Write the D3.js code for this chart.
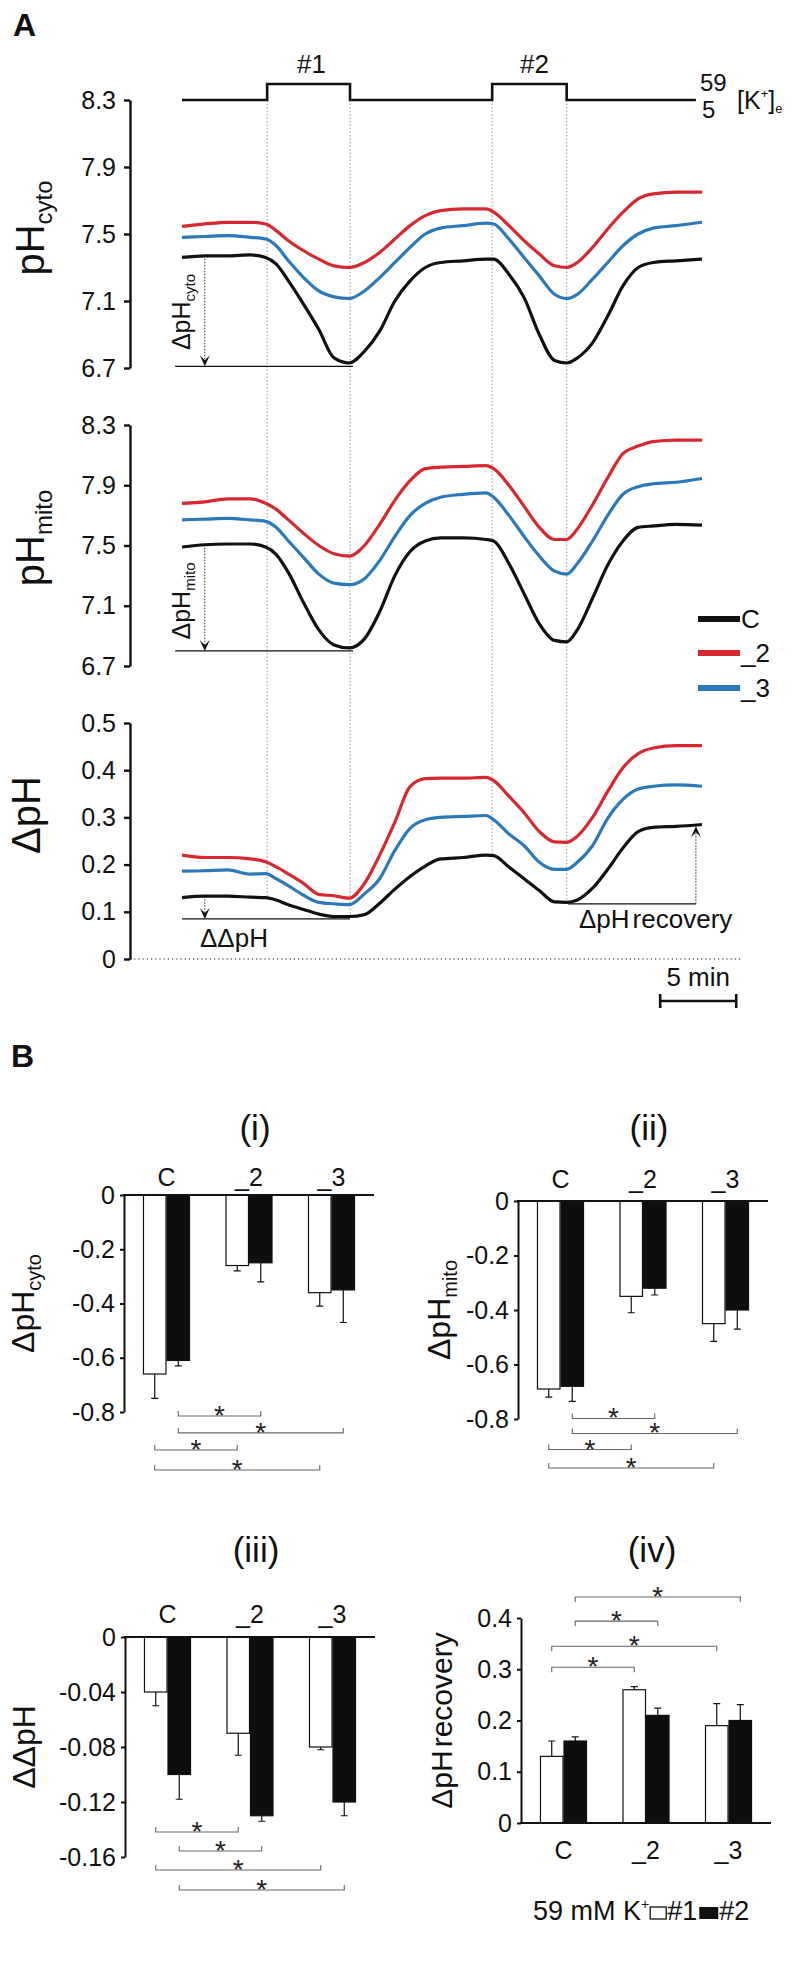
<!DOCTYPE html>
<html><head><meta charset="utf-8">
<script src="https://cdn.jsdelivr.net/npm/d3@7"></script>
<style>body{margin:0;background:#fff} svg{display:block;background:#fff}</style>
</head><body><svg id="chart" width="791" height="1970"></svg>
<script>
// ---------------- DATA ----------------
// Panel A: time (min) and traces
const time   = [0,1.5,3,4.5,5.5,6.2,7,8,9,10, 11,12,13,14,15,16,17,18.5,20,20.5, 21.5,22.5,23.5,24.5,25.3,26,27,28,29,30, 31,32.5,34.2];
const cytoC  = [7.36,7.37,7.37,7.375,7.36,7.32,7.22,7.08,6.93,6.76, 6.73,6.80,6.92,7.10,7.22,7.30,7.33,7.34,7.35,7.35, 7.26,7.12,6.90,6.745,6.73,6.76,6.85,7.01,7.19,7.30, 7.33,7.34,7.35];
const cyto2  = [7.545,7.56,7.57,7.57,7.56,7.52,7.46,7.40,7.35,7.31, 7.30,7.33,7.39,7.47,7.55,7.61,7.64,7.65,7.65,7.63, 7.55,7.46,7.38,7.31,7.30,7.33,7.42,7.53,7.63,7.71, 7.74,7.75,7.75];
const cyto3  = [7.48,7.485,7.49,7.48,7.47,7.43,7.34,7.24,7.16,7.125, 7.115,7.16,7.24,7.33,7.42,7.50,7.535,7.55,7.565,7.56, 7.47,7.36,7.25,7.14,7.115,7.14,7.23,7.33,7.43,7.50, 7.535,7.55,7.57];
const mitoC  = [7.49,7.505,7.51,7.51,7.49,7.44,7.32,7.12,6.94,6.84, 6.82,6.88,7.06,7.30,7.46,7.53,7.55,7.55,7.54,7.53, 7.38,7.18,6.98,6.87,6.86,6.94,7.15,7.37,7.53,7.62, 7.63,7.64,7.635];
const mito2  = [7.78,7.79,7.81,7.81,7.78,7.74,7.67,7.58,7.50,7.445, 7.43,7.50,7.64,7.80,7.93,8.01,8.02,8.025,8.03,8.01, 7.90,7.76,7.62,7.54,7.54,7.61,7.77,7.95,8.11,8.16, 8.19,8.20,8.20];
const mito3  = [7.67,7.675,7.68,7.67,7.66,7.62,7.53,7.42,7.31,7.25, 7.24,7.28,7.40,7.56,7.70,7.78,7.82,7.84,7.85,7.82, 7.70,7.56,7.43,7.33,7.31,7.38,7.53,7.70,7.84,7.89, 7.91,7.92,7.945];
const dphC   = [0.13,0.133,0.133,0.131,0.13,0.125,0.115,0.105,0.095,0.09, 0.09,0.094,0.118,0.148,0.175,0.197,0.212,0.215,0.22,0.219, 0.195,0.17,0.145,0.121,0.12,0.125,0.15,0.19,0.235,0.27, 0.279,0.281,0.285];
const dph2   = [0.22,0.215,0.215,0.212,0.206,0.195,0.18,0.16,0.137,0.134, 0.129,0.16,0.22,0.29,0.365,0.382,0.383,0.383,0.385,0.378, 0.345,0.31,0.27,0.248,0.247,0.26,0.30,0.355,0.405,0.435, 0.447,0.452,0.452];
const dph3   = [0.186,0.187,0.189,0.18,0.181,0.17,0.155,0.135,0.12,0.117, 0.115,0.138,0.17,0.23,0.277,0.295,0.30,0.302,0.304,0.295, 0.265,0.24,0.205,0.19,0.19,0.205,0.24,0.298,0.338,0.36, 0.366,0.369,0.366];
const traceNames  = ["C","_2","_3"];
const traceColors = ["#111111","#d6282e","#2b79b8"];
// stimulus [K+]e
const stimTime = [0,5.6,5.6,11.05,11.05,20.4,20.4,25.3,25.3,33.8];
const stimK    = [5,5,59,59,5,5,59,59,5,5];
const pulseLabels = ["#1","#2"];
const pulseEdges  = [5.6,11.05,20.4,25.3];
const pulseEdgeDpH = [0.13,0.09,0.22,0.12];
// ticks
const phTicks  = [8.3,7.9,7.5,7.1,6.7];
const dphTicks = [0.5,0.4,0.3,0.2,0.1,0];

// Panel B: bar data
const categories = ["C","_2","_3"];
const series = ["#1","#2"];
const cytoK1 = [-0.66,-0.26,-0.36], cytoK1err = [0.09,0.02,0.05];
const cytoK2 = [-0.61,-0.25,-0.35], cytoK2err = [0.02,0.07,0.12];
const mitoK1 = [-0.69,-0.35,-0.45], mitoK1err = [0.03,0.06,0.065];
const mitoK2 = [-0.68,-0.32,-0.40], mitoK2err = [0.055,0.025,0.07];
const ddK1   = [-0.04,-0.07,-0.08], ddK1err = [0.01,0.016,0.002];
const ddK2   = [-0.10,-0.13,-0.12], ddK2err = [0.018,0.004,0.01];
const recK1  = [0.13,0.26,0.19], recK1err = [0.03,0.006,0.043];
const recK2  = [0.16,0.21,0.20], recK2err = [0.008,0.014,0.031];
const negTicks   = [0,-0.2,-0.4,-0.6,-0.8];
const ddTicks    = [0,-0.04,-0.08,-0.12,-0.16];
const recTicks   = [0,0.1,0.2,0.3,0.4];
// significance brackets: [cat1, series1, cat2, series2, level (data units)]
const sigCyto = [["C","#2","_2","#2",-0.815],["C","#2","_3","#2",-0.877],["C","#1","_2","#1",-0.94],["C","#1","_3","#1",-1.014]];
const sigMito = [["C","#2","_2","#2",-0.798],["C","#2","_3","#2",-0.853],["C","#1","_2","#1",-0.912],["C","#1","_3","#1",-0.98]];
const sigDD   = [["C","#1","_2","#1",-0.1418],["C","#2","_2","#2",-0.1556],["C","#1","_3","#1",-0.1695],["C","#2","_3","#2",-0.184]];
const sigRec  = [["C","#2","_3","#2",0.441],["C","#2","_2","#2",0.394],["C","#1","_3","#1",0.345],["C","#1","_2","#1",0.304]];

// ---------------- DRAWING ----------------
const FONT = '"Liberation Sans", Arial, Helvetica, sans-serif';
const INK = "#111";
const svg = d3.select("#chart");
svg.append("rect").attr("width",791).attr("height",1970).attr("fill","#fff");

function txt(g, x, y, s, size, anchor, weight) {
  return g.append("text").attr("x",x).attr("y",y).attr("font-family",FONT)
    .attr("font-size",size).attr("text-anchor",anchor||"start")
    .attr("font-weight",weight||"normal").attr("fill",INK).text(s);
}
function vLabel(g, x, y, parts) {
  const t = g.append("text").attr("transform",`translate(${x},${y}) rotate(-90)`)
    .attr("font-family",FONT).attr("text-anchor","middle").attr("fill",INK);
  parts.forEach(p => {
    const sp = t.append("tspan").attr("font-size",p.size).text(p.t);
    if (p.dy) sp.attr("dy",p.dy);
    if (p.dx) sp.attr("dx",p.dx);
  });
  return t;
}
function leftAxis(g, scale, ticks, x, fmt, fs, sw, size, pad) {
  const a = g.append("g").attr("transform",`translate(${x},0)`)
    .call(d3.axisLeft(scale).tickValues(ticks).tickFormat(fmt).tickSize(size).tickSizeOuter(0).tickPadding(pad));
  a.select(".domain").attr("stroke",INK).attr("stroke-width",sw);
  a.selectAll(".tick line").attr("stroke",INK).attr("stroke-width",sw);
  a.selectAll(".tick text").attr("font-family",FONT).attr("font-size",fs).attr("fill",INK);
  return a;
}
function arrowHead(g, x, y, dir) { // dir 1: points down, -1: points up
  g.append("path").attr("d",`M${x},${y} L${x-5},${y-11*dir} L${x},${y-6*dir} L${x+5},${y-11*dir} Z`).attr("fill",INK);
}

// ---- Panel A ----
const gA = svg.append("g");
txt(gA, 13, 36, "A", 32, "start", "bold");

const xT   = d3.scaleLinear().domain([0,34.2]).range([182,702]);
const yStim = d3.scaleLinear().domain([5,59]).range([100,84]);
const yCyto = d3.scaleLinear().domain([6.7,8.3]).range([368,100]);
const yMito = d3.scaleLinear().domain([6.7,8.3]).range([666,425]);
const yDpH  = d3.scaleLinear().domain([0,0.5]).range([959,723]);

// pulse dotted guide lines
pulseEdges.forEach((t,i) => {
  gA.append("line").attr("x1",xT(t)).attr("x2",xT(t)).attr("y1",yStim(5)).attr("y2",yDpH(pulseEdgeDpH[i]))
    .attr("stroke","#8a8a8a").attr("stroke-width",0.9).attr("stroke-dasharray","1.5,2");
});

// stimulus
const stimLine = d3.line().x((d,i)=>xT(stimTime[i])).y(d=>yStim(d));
gA.append("path").attr("d",stimLine(stimK)).attr("fill","none").attr("stroke",INK).attr("stroke-width",2.6);
txt(gA, xT((pulseEdges[0]+pulseEdges[1])/2)+3, 73, pulseLabels[0], 26, "middle");
txt(gA, xT((pulseEdges[2]+pulseEdges[3])/2)+5, 73, pulseLabels[1], 26, "middle");
txt(gA, 700, 91, "59", 24);
txt(gA, 702, 118, "5", 24);
const kt = txt(gA, 737, 109, "[K", 25);
kt.append("tspan").attr("font-size",13).attr("dy",-11).text("+");
kt.append("tspan").attr("font-size",25).attr("dy",11).text("]");
kt.append("tspan").attr("font-size",13).attr("dy",4).text("e");

// axes
const fmt1 = d3.format(".1f");
leftAxis(gA, yCyto, phTicks, 130, fmt1, 25, 2.4, 6, 8);
leftAxis(gA, yMito, phTicks, 130, fmt1, 25, 2.4, 6, 8);
leftAxis(gA, yDpH, dphTicks, 130, d => d===0 ? "0" : fmt1(d), 25, 2.4, 6, 8);
// zero dotted
gA.append("line").attr("x1",130).attr("x2",741).attr("y1",yDpH(0)).attr("y2",yDpH(0))
  .attr("stroke",INK).attr("stroke-width",1.1).attr("stroke-dasharray","1.2,3");

// axis titles
vLabel(gA, 44, 228, [{t:"pH",size:40},{t:"cyto",size:24,dy:8}]);
vLabel(gA, 44, 538, [{t:"pH",size:40},{t:"mito",size:24,dy:8}]);
vLabel(gA, 40, 815, [{t:"ΔpH",size:40}]);

// annotations (in data units)
function hLine(ys, v, t0, t1) {
  gA.append("line").attr("x1",xT(t0)).attr("x2",xT(t1)).attr("y1",ys(v)).attr("y2",ys(v))
    .attr("stroke",INK).attr("stroke-width",1.3);
}
function dArrow(ys, t, v0, v1) {
  const dir = v1 < v0 ? 1 : -1;
  gA.append("line").attr("x1",xT(t)).attr("x2",xT(t)).attr("y1",ys(v0)).attr("y2",ys(v1)-dir*6)
    .attr("stroke","#333").attr("stroke-width",1).attr("stroke-dasharray","1.5,1.5");
  arrowHead(gA, xT(t), ys(v1), dir);
}
hLine(yCyto, 6.71, -0.45, 11.25); dArrow(yCyto, 1.5, 7.37, 6.71);
hLine(yMito, 6.80, -0.45, 11.25); dArrow(yMito, 1.5, 7.505, 6.80);
hLine(yDpH, 0.085, 0, 11.05);     dArrow(yDpH, 1.5, 0.133, 0.085);
hLine(yDpH, 0.117, 25.4, 33.8);   dArrow(yDpH, 33.8, 0.117, 0.281);
vLabel(gA, 190, 312, [{t:"ΔpH",size:25},{t:"cyto",size:15,dy:5}]);
vLabel(gA, 190, 601, [{t:"ΔpH",size:25},{t:"mito",size:15,dy:5}]);
txt(gA, 200, 947, "ΔΔpH", 26);
const rec = txt(gA, 579, 928, "ΔpH", 26);
rec.append("tspan").attr("dx",3).text("recovery");

// traces
const groups = [[cytoC,cyto2,cyto3,yCyto],[mitoC,mito2,mito3,yMito],[dphC,dph2,dph3,yDpH]];
groups.forEach(gr => {
  const ys = gr[3];
  const line = d3.line().x((d,i)=>xT(time[i])).y(d=>ys(d)).curve(d3.curveMonotoneX);
  [2,1,0].forEach(k => {
    gA.append("path").attr("d",line(gr[k])).attr("fill","none")
      .attr("stroke",traceColors[k]).attr("stroke-width",3.2).attr("stroke-linejoin","round");
  });
});

// legend
traceNames.forEach((n,i) => {
  const y = [619,653,688][i];
  gA.append("line").attr("x1",698).attr("x2",740).attr("y1",y).attr("y2",y)
    .attr("stroke",traceColors[i]).attr("stroke-width",6);
  txt(gA, 741, y+9, n, 26);
});

// scale bar 5 min
const sb0 = 31.45, sbLen = 5;
gA.append("path").attr("d",`M${xT(sb0)},${994}V${1008}M${xT(sb0)},1001H${xT(sb0+sbLen)}M${xT(sb0+sbLen)},994V1008`)
  .attr("stroke",INK).attr("stroke-width",2.6).attr("fill","none");
txt(gA, (xT(sb0)+xT(sb0+sbLen))/2, 986, "5 min", 26, "middle");

// ---- Panel B ----
const gB = svg.append("g");
txt(gB, 11, 1067, "B", 32, "start", "bold");

function barPanel(o) {
  const g = gB.append("g");
  const xg = d3.scaleBand().domain(categories).range([o.ax, o.ax+250]).paddingInner(0.43).paddingOuter(0.23);
  const xs = d3.scaleBand().domain(series).range([0, xg.bandwidth()]);
  const y = d3.scaleLinear().domain(o.domain).range(o.range);
  const cx = (c,s) => xg(c) + xs(s) + xs.bandwidth()/2;
  series.forEach((s,si) => {
    const vals = o.vals[si], errs = o.errs[si];
    g.selectAll(null).data(categories).enter().append("rect")
      .attr("x", c => xg(c)+xs(s)+0.5)
      .attr("width", xs.bandwidth()-1)
      .attr("y", (c,i) => Math.min(y(0), y(vals[i])))
      .attr("height", (c,i) => Math.abs(y(vals[i])-y(0)))
      .attr("fill", si===0 ? "#fff" : "#0e0e0e").attr("stroke","#111").attr("stroke-width",1.2);
    g.selectAll(null).data(categories).enter().append("path")
      .attr("d", (c,i) => {
        const v = vals[i], e = v < 0 ? v - errs[i] : v + errs[i];
        const x = cx(c,s);
        return `M${x},${y(v)}V${y(e)}M${x-3.5},${y(e)}H${x+3.5}`;
      })
      .attr("stroke","#111").attr("stroke-width",1.2).attr("fill","none");
  });
  // axes
  leftAxis(g, y, o.ticks, o.ax, d => d===0 ? "0" : String(d), 25, 2, 4, 5);
  g.append("line").attr("x1",o.ax-1).attr("x2",o.ax+250).attr("y1",y(0)).attr("y2",y(0))
    .attr("stroke",INK).attr("stroke-width",2);
  // category labels
  categories.forEach(c => txt(g, xg(c)+xg.bandwidth()/2, o.catY, c, 25, "middle"));
  // title
  txt(g, o.ax+131, o.titleY, o.title, 35, "middle");
  // y label
  vLabel(g, o.labX, (o.range[0]+o.range[1])/2, o.label);
  // brackets
  o.sig.forEach(b => {
    const x1 = cx(b[0],b[1]), x2 = cx(b[2],b[3]), yy = y(b[4]);
    const d = o.up ? -5 : 5;
    g.append("path").attr("d",`M${x1},${yy+d}V${yy}H${x2}V${yy+d}`)
      .attr("stroke","#666").attr("stroke-width",1.1).attr("fill","none");
    g.append("text").attr("x",(x1+x2)/2).attr("y",yy+9).attr("text-anchor","middle")
      .attr("font-family",FONT).attr("font-size",28).attr("fill","#222").text("*");
  });
}

barPanel({ax:124, domain:[-0.8,0], range:[1412,1195], ticks:negTicks, vals:[cytoK1,cytoK2], errs:[cytoK1err,cytoK2err],
  catY:1186, title:"(i)", titleY:1140, labX:34, label:[{t:"ΔpH",size:32},{t:"cyto",size:20,dy:7}], sig:sigCyto, up:true});
barPanel({ax:518, domain:[-0.8,0], range:[1419,1201], ticks:negTicks, vals:[mitoK1,mitoK2], errs:[mitoK1err,mitoK2err],
  catY:1188, title:"(ii)", titleY:1140, labX:450, label:[{t:"ΔpH",size:32},{t:"mito",size:20,dy:7}], sig:sigMito, up:true});
barPanel({ax:125, domain:[-0.16,0], range:[1857,1637], ticks:ddTicks, vals:[ddK1,ddK2], errs:[ddK1err,ddK2err],
  catY:1623, title:"(iii)", titleY:1562, labX:35, label:[{t:"ΔΔpH",size:32}], sig:sigDD, up:true});
barPanel({ax:521, domain:[0,0.4], range:[1823,1618], ticks:recTicks, vals:[recK1,recK2], errs:[recK1err,recK2err],
  catY:1859, title:"(iv)", titleY:1562, labX:452, label:[{t:"ΔpH",size:30},{t:"recovery",size:30,dx:3}], sig:sigRec, up:false});

// bottom legend
(function(){
  const g = gB.append("g");
  let x = 533; const yb = 1920;
  const t1 = txt(g, x, yb, "59 mM K", 27); x += t1.node().getComputedTextLength();
  const t2 = txt(g, x, yb-11, "+", 14); x += t2.node().getComputedTextLength() + 1;
  g.append("rect").attr("x",x).attr("y",yb-13).attr("width",16).attr("height",12).attr("fill","#fff").attr("stroke","#111").attr("stroke-width",1.3);
  x += 17;
  const t3 = txt(g, x, yb, series[0], 27); x += t3.node().getComputedTextLength() + 2;
  g.append("rect").attr("x",x).attr("y",yb-13).attr("width",19).attr("height",12).attr("fill","#111");
  x += 20;
  txt(g, x, yb, series[1], 27);
})();
</script></body></html>
